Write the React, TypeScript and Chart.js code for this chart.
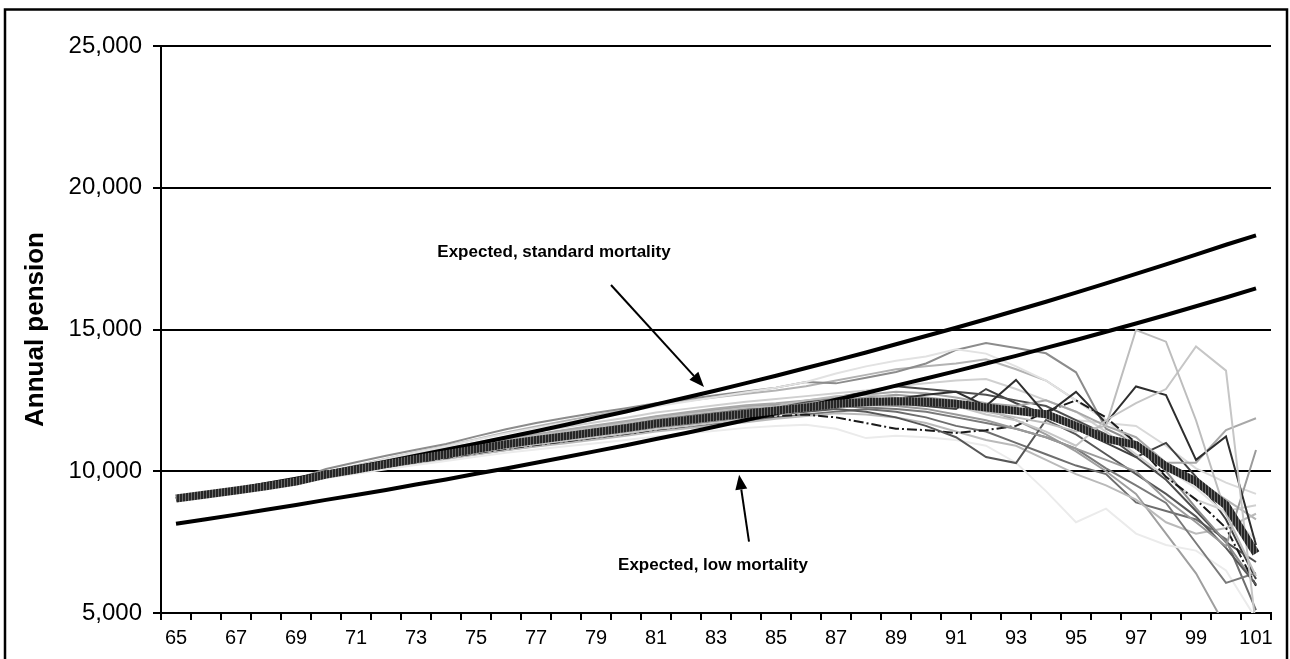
import React, { useEffect, useRef } from 'react';
import { Chart, registerables } from 'chart.js';

Chart.register(...registerables);

const ages = ['65','66','67','68','69','70','71','72','73','74','75','76','77','78','79','80','81','82','83','84','85','86','87','88','89','90','91','92','93','94','95','96','97','98','99','100','101'];

const yTicks = [5000, 10000, 15000, 20000, 25000];

const meanPension = [9040, 9180, 9320, 9470, 9640, 9880, 10060, 10250, 10430, 10600, 10780, 10950, 11100, 11240, 11380, 11520, 11680, 11800, 11920, 12030, 12140, 12250, 12370, 12440, 12470, 12450, 12380, 12250, 12130, 12010, 11600, 11150, 10930, 10170, 9640, 8800, 7100];

const expectedStandard = [9000, 9180, 9360, 9550, 9740, 9940, 10140, 10340, 10550, 10760, 10970, 11190, 11410, 11640, 11880, 12110, 12360, 12600, 12850, 13110, 13370, 13640, 13910, 14190, 14480, 14770, 15060, 15360, 15670, 15980, 16300, 16630, 16960, 17300, 17640, 17990, 18320];

const expectedLow = [8150, 8310, 8470, 8640, 8810, 8990, 9160, 9340, 9530, 9710, 9910, 10100, 10300, 10500, 10710, 10920, 11140, 11350, 11580, 11810, 12040, 12280, 12520, 12760, 13020, 13270, 13530, 13800, 14070, 14350, 14630, 14920, 15210, 15510, 15820, 16130, 16450];

const sim01 = [9040, 9180, 9330, 9490, 9670, 9930, 10120, 10330, 10520, 10700, 10900, 11080, 11250, 11400, 11550, 11700, 11870, 12000, 12120, 12240, 12300, 12500, 12650, 12700, 12600, 12500, 12300, 12100, 11900, 11700, 11400, 11600, 14980, 14570, 11800, 8500, 6300];
const sim02 = [9040, 9170, 9300, 9450, 9610, 9830, 10000, 10170, 10340, 10500, 10660, 10820, 10950, 11080, 11210, 11340, 11490, 11600, 11720, 11840, 12000, 12150, 12300, 12400, 12500, 12450, 12300, 12000, 11800, 11400, 10900, 11800, 12400, 12900, 14400, 13550, 4500];
const sim03 = [9040, 9190, 9320, 9490, 9650, 9910, 10100, 10270, 10460, 10660, 10830, 11020, 11140, 11300, 11460, 11590, 11770, 11860, 12000, 12100, 12150, 12250, 12400, 12500, 12550, 12700, 12800, 12300, 13220, 12000, 12800, 11700, 12990, 12690, 10400, 11230, 7400];
const sim04 = [9040, 9190, 9340, 9500, 9680, 9940, 10140, 10350, 10550, 10740, 10940, 11130, 11300, 11460, 11620, 11770, 11940, 12080, 12210, 12330, 12400, 12500, 12600, 12700, 12800, 12750, 12600, 12400, 12300, 12500, 12100, 11600, 11200, 10300, 10300, 11450, 11870];
const sim05 = [9040, 9190, 9320, 9480, 9660, 9910, 10100, 10300, 10490, 10660, 10850, 11030, 11180, 11330, 11470, 11620, 11780, 11910, 12030, 12150, 12200, 12300, 12400, 12350, 12300, 12200, 12000, 11800, 11500, 11200, 10800, 10400, 10000, 9000, 8200, 7350, 10750];
const sim06 = [9040, 9170, 9300, 9440, 9600, 9820, 9990, 10160, 10330, 10490, 10660, 10820, 10960, 11090, 11220, 11350, 11510, 11620, 11740, 11860, 12000, 12100, 12200, 12100, 11900, 11600, 11200, 10500, 10290, 11810, 11300, 10600, 9900, 9200, 8400, 7300, 6000];
const sim07 = [9040, 9180, 9310, 9470, 9630, 9890, 10060, 10230, 10420, 10570, 10770, 10930, 11060, 11220, 11350, 11510, 11650, 11780, 11910, 12030, 12100, 12200, 12300, 12250, 12200, 12100, 11900, 11700, 11500, 11200, 10800, 10100, 9500, 8880, 7470, 6060, 6410];
const sim08 = [9040, 9170, 9300, 9440, 9590, 9810, 9980, 10150, 10320, 10470, 10640, 10790, 10930, 11060, 11190, 11320, 11470, 11590, 11720, 11850, 11950, 12000, 11900, 11700, 11500, 11450, 11350, 11450, 11600, 12100, 12500, 11900, 11000, 9800, 9000, 8000, 5960];
const sim09 = [9040, 9160, 9280, 9410, 9560, 9760, 9910, 10070, 10220, 10360, 10510, 10650, 10770, 10880, 10990, 11100, 11230, 11330, 11430, 11530, 11600, 11640, 11500, 11170, 11250, 11200, 11100, 10900, 10300, 9300, 8200, 8680, 7800, 7400, 7200, 6500, 4800];
const sim10 = [9040, 9190, 9340, 9500, 9690, 9960, 10180, 10430, 10660, 10880, 11110, 11330, 11530, 11720, 11910, 12090, 12290, 12450, 12620, 12790, 12950, 13150, 13450, 13700, 13900, 14050, 14300, 14150, 13700, 13200, 12500, 11800, 10900, 10100, 9400, 8500, 7600];
const sim11 = [9040, 9190, 9340, 9510, 9720, 10080, 10320, 10550, 10760, 10960, 11230, 11480, 11700, 11890, 12060, 12220, 12400, 12540, 12680, 12810, 12950, 13150, 13100, 13300, 13500, 13800, 14280, 14520, 14350, 14160, 13490, 11500, 11000, 10000, 8700, 7500, 6000];
const sim12 = [9040, 9180, 9330, 9480, 9660, 9910, 10100, 10300, 10490, 10670, 10860, 11050, 11210, 11360, 11510, 11660, 11830, 11950, 12080, 12190, 12300, 12450, 12600, 12800, 13000, 12900, 12800, 12700, 12500, 12300, 11800, 11300, 10500, 9700, 8600, 7500, 6800];
const sim13 = [9040, 9170, 9290, 9420, 9570, 9790, 9950, 10120, 10280, 10430, 10590, 10740, 10870, 10990, 11120, 11250, 11400, 11510, 11620, 11730, 11850, 11950, 12050, 12000, 11900, 11700, 11400, 11100, 10900, 10400, 9900, 9500, 9000, 8200, 7800, 8000, 8500];
const sim14 = [9040, 9170, 9300, 9430, 9580, 9800, 9960, 10130, 10290, 10440, 10600, 10750, 10890, 11020, 11150, 11280, 11430, 11550, 11660, 11770, 11900, 12000, 12100, 12200, 12100, 11900, 11600, 11400, 11000, 10600, 10200, 9900, 8900, 8600, 8300, 7600, 5100];
const sim15 = [9040, 9190, 9340, 9500, 9690, 9950, 10150, 10360, 10560, 10750, 10950, 11140, 11300, 11450, 11600, 11750, 11920, 12050, 12170, 12290, 12350, 12400, 12500, 12600, 12700, 12600, 12500, 12200, 11800, 11300, 10700, 10000, 9200, 7800, 6400, 4500, 4000];
const sim16 = [9040, 9200, 9350, 9510, 9700, 9970, 10170, 10400, 10610, 10800, 11010, 11210, 11390, 11560, 11730, 11890, 12070, 12200, 12330, 12450, 12550, 12650, 12750, 12850, 13000, 13100, 13200, 13250, 12900, 12500, 12100, 11400, 10600, 9800, 9000, 8600, 8800];
const sim17 = [9040, 9170, 9310, 9450, 9620, 9850, 10020, 10220, 10380, 10560, 10720, 10900, 11030, 11180, 11330, 11450, 11620, 11720, 11860, 11980, 12100, 12200, 12300, 12400, 12400, 12300, 12200, 12900, 12400, 12000, 11500, 11000, 10500, 11000, 9800, 8300, 6200];
const sim18 = [9040, 9170, 9300, 9440, 9610, 9830, 10000, 10190, 10360, 10520, 10700, 10860, 11010, 11140, 11280, 11410, 11570, 11680, 11800, 11920, 12050, 12150, 12250, 12300, 12350, 12300, 12250, 12200, 12150, 12000, 11800, 11700, 11600, 10900, 10100, 9600, 9200];
const sim19 = [9040, 9190, 9340, 9510, 9700, 9980, 10200, 10440, 10670, 10890, 11130, 11370, 11580, 11780, 11980, 12160, 12340, 12480, 12610, 12730, 12850, 13000, 13200, 13400, 13600, 13700, 13800, 13950, 13600, 13200, 12500, 11800, 11000, 10300, 9700, 9000, 8300];

const simulations = [sim01, sim02, sim03, sim04, sim05, sim06, sim07, sim08, sim09, sim10, sim11, sim12, sim13, sim14, sim15, sim16, sim17, sim18, sim19];
const simColors = ['#bdbdbd', '#c6c6c6', '#2e2e2e', '#a8a8a8', '#9a9a9a', '#575757', '#7a7a7a', '#1a1a1a', '#ebebeb', '#e2e2e2', '#8c8c8c', '#4f4f4f', '#bababa', '#6e6e6e', '#9f9f9f', '#d0d0d0', '#404040', '#d9d9d9', '#b3b3b3'];

// annotation positions in data space (age, pension value)
const annoStdText = 'Expected, standard mortality';
const annoStdAt = [77.6, 17730];
const annoStdArrow = [79.5, 16570, 82.6, 12975];
const annoLowText = 'Expected, low mortality';
const annoLowAt = [82.9, 6670];
const annoLowArrow = [84.1, 7520, 83.77, 9880];

const FONT = '"Liberation Sans", Arial, sans-serif';

function makeHatch(): CanvasPattern | string {
  const c = document.createElement('canvas');
  c.width = 3;
  c.height = 1;
  const g = c.getContext('2d');
  if (!g) return '#3c3c3c';
  g.fillStyle = '#262626';
  g.fillRect(0, 0, 2, 1);
  g.fillStyle = '#6c6c6c';
  g.fillRect(2, 0, 1, 1);
  const p = g.createPattern(c, 'repeat');
  return p || '#3c3c3c';
}

const framePlugin = {
  id: 'frameAndNotes',
  afterDraw(chart: any) {
    const ctx = chart.ctx;
    const xs = chart.scales.x;
    const ys = chart.scales.y;
    ctx.save();
    ctx.strokeStyle = '#000';
    ctx.lineWidth = 2.5;
    ctx.strokeRect(5, 9.5, 1282, 720);

    const px = (age: number) => xs.getPixelForValue(age - 65);
    const py = (v: number) => ys.getPixelForValue(v);

    ctx.fillStyle = '#000';
    ctx.font = 'bold 17px ' + FONT;
    ctx.textAlign = 'center';
    ctx.textBaseline = 'middle';
    ctx.fillText(annoStdText, px(annoStdAt[0]), py(annoStdAt[1]));
    ctx.fillText(annoLowText, px(annoLowAt[0]), py(annoLowAt[1]));

    const arrow = (a: number[]) => {
      const x1 = px(a[0]), y1 = py(a[1]), x2 = px(a[2]), y2 = py(a[3]);
      const ang = Math.atan2(y2 - y1, x2 - x1);
      const hl = 15, hw = 6;
      const bx = x2 - hl * Math.cos(ang), by = y2 - hl * Math.sin(ang);
      ctx.strokeStyle = '#000';
      ctx.lineWidth = 2;
      ctx.beginPath();
      ctx.moveTo(x1, y1);
      ctx.lineTo(bx, by);
      ctx.stroke();
      ctx.beginPath();
      ctx.moveTo(x2, y2);
      ctx.lineTo(bx + hw * Math.sin(ang), by - hw * Math.cos(ang));
      ctx.lineTo(bx - hw * Math.sin(ang), by + hw * Math.cos(ang));
      ctx.closePath();
      ctx.fill();
    };
    arrow(annoStdArrow);
    arrow(annoLowArrow);
    ctx.restore();
  },
};

export default function App() {
  const ref = useRef<HTMLCanvasElement | null>(null);

  useEffect(() => {
    if (!ref.current) return;
    const hatch = makeHatch();
    const datasets: any[] = [
      {
        label: 'Mean',
        data: meanPension,
        borderColor: hatch,
        borderWidth: 8,
        pointRadius: 0,
        tension: 0,
        fill: false,
        borderCapStyle: 'butt',
      },
      {
        label: 'Expected, standard mortality',
        data: expectedStandard,
        borderColor: '#000',
        borderWidth: 4,
        pointRadius: 0,
        tension: 0,
        fill: false,
      },
      {
        label: 'Expected, low mortality',
        data: expectedLow,
        borderColor: '#000',
        borderWidth: 4,
        pointRadius: 0,
        tension: 0,
        fill: false,
      },
      ...simulations.map((s, i) => ({
        label: 'Simulation ' + (i + 1),
        data: s,
        borderColor: simColors[i],
        borderWidth: 2,
        borderDash: i === 7 ? [10, 3, 2, 3] : [],
        pointRadius: 0,
        tension: 0,
        fill: false,
      })),
    ];

    const chart = new Chart(ref.current, {
      type: 'line',
      data: { labels: ages, datasets },
      options: {
        responsive: false,
        animation: false,
        devicePixelRatio: 1,
        layout: { padding: { top: 46, right: 19, left: 0, bottom: 0 } },
        plugins: {
          legend: { display: false },
          tooltip: { enabled: false },
          title: { display: false },
        },
        scales: {
          x: {
            type: 'category',
            offset: true,
            afterFit: (scale: any) => { scale.height = 46; },
            grid: {
              display: true,
              offset: true,
              drawOnChartArea: false,
              drawTicks: true,
              tickLength: 7,
              color: '#000',
              lineWidth: 2,
            },
            border: { display: true, color: '#000', width: 2 },
            ticks: {
              autoSkip: false,
              maxRotation: 0,
              minRotation: 0,
              color: '#000',
              padding: 6,
              font: { family: FONT, size: 20 },
              callback: (_v: any, i: number) => (i % 2 === 0 ? ages[i] : ''),
            },
          },
          y: {
            min: yTicks[0],
            max: yTicks[yTicks.length - 1],
            afterFit: (scale: any) => { scale.width = 161; },
            afterBuildTicks: (scale: any) => { scale.ticks = yTicks.map((v) => ({ value: v })); },
            grid: {
              display: true,
              drawOnChartArea: true,
              drawTicks: true,
              tickLength: 8,
              color: '#000',
              lineWidth: 2,
            },
            border: { display: true, color: '#000', width: 2 },
            title: {
              display: true,
              text: 'Annual pension',
              color: '#000',
              padding: { top: 20, bottom: 0 },
              font: { family: FONT, size: 26, weight: 'bold' },
            },
            ticks: {
              color: '#000',
              padding: 11,
              font: { family: FONT, size: 24 },
              callback: (v: any) => Number(v).toLocaleString('en-US'),
            },
          },
        },
      },
      plugins: [framePlugin],
    });

    return () => chart.destroy();
  }, []);

  return (
    <div style={{ position: 'fixed', left: 0, top: 0, width: 1290, height: 659, background: '#fff' }}>
      <canvas ref={ref} width={1290} height={659} style={{ display: 'block' }} />
    </div>
  );
}
